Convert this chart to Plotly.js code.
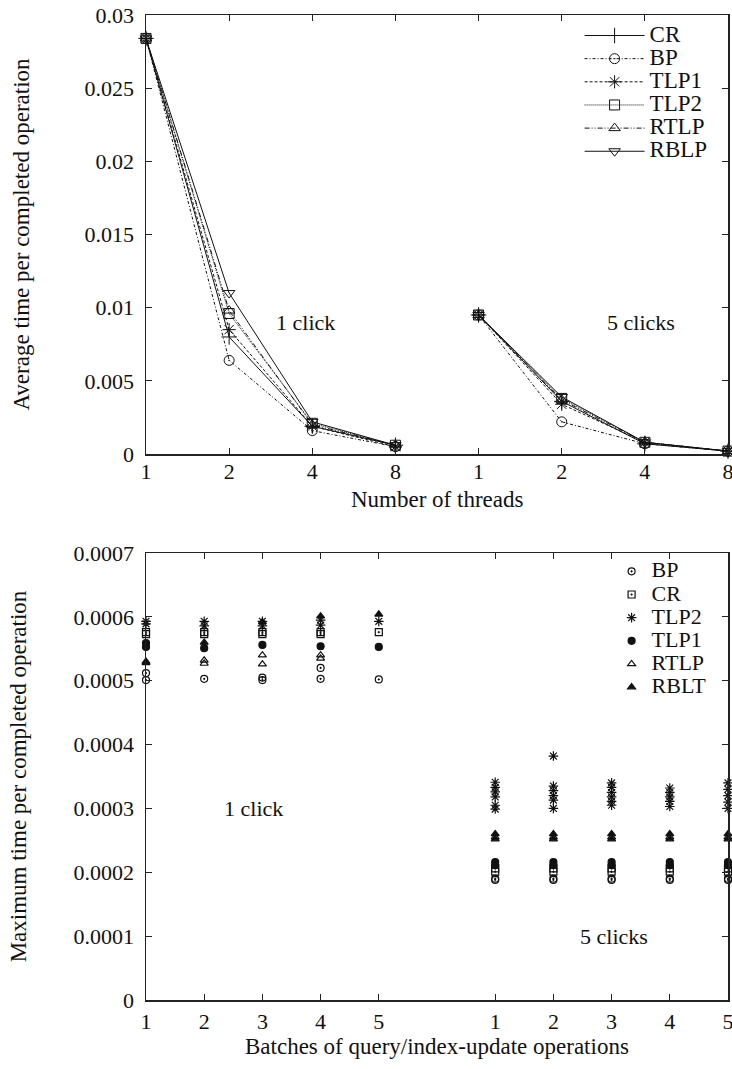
<!DOCTYPE html>
<html>
<head>
<meta charset="utf-8">
<script src="https://cdn.plot.ly/plotly-3.0.1.min.js"></script>
<style>html,body{margin:0;padding:0;background:#fff;}#chart{width:732px;height:1069px;}</style>
</head>
<body>
<div id="chart"></div>
<script>
// ---------- Top chart: average time vs number of threads ----------
const threads = ['1', '2', '4', '8'];
const groupsTop = ['1 click', '5 clicks'];
const avgSeriesNames = ['CR', 'BP', 'TLP1', 'TLP2', 'RTLP', 'RBLP'];
const CR_avg_1   = [0.0284, 0.0080, 0.0019, 0.0006];
const CR_avg_5   = [0.0095, 0.0036, 0.0007, 0.0002];
const BP_avg_1   = [0.0284, 0.0064, 0.0016, 0.0005];
const BP_avg_5   = [0.0095, 0.0022, 0.0007, 0.0002];
const TLP1_avg_1 = [0.0284, 0.0085, 0.0019, 0.0005];
const TLP1_avg_5 = [0.0095, 0.0034, 0.0008, 0.0002];
const TLP2_avg_1 = [0.0284, 0.0096, 0.0021, 0.0006];
const TLP2_avg_5 = [0.0095, 0.0038, 0.0008, 0.0002];
const RTLP_avg_1 = [0.0284, 0.0098, 0.0020, 0.0006];
const RTLP_avg_5 = [0.0095, 0.0037, 0.0008, 0.0002];
const RBLP_avg_1 = [0.0284, 0.0110, 0.0022, 0.0006];
const RBLP_avg_5 = [0.0095, 0.0039, 0.0008, 0.0002];
const yTicksTop = [0, 0.005, 0.01, 0.015, 0.02, 0.025, 0.03];
const yTickTextTop = ['0', '0.005', '0.01', '0.015', '0.02', '0.025', '0.03'];

// ---------- Bottom chart: maximum time vs batches (several runs per batch) ----------
const batches = ['1', '2', '3', '4', '5'];
const maxSeriesNames = ['BP', 'CR', 'TLP2', 'TLP1', 'RTLP', 'RBLT'];
// one list of observed values per batch
const BP_max_1   = [[0.000512, 0.000501], [0.000503], [0.000505, 0.000501], [0.00052, 0.000503], [0.000502]];
const BP_max_5   = [[0.00019, 0.000188], [0.00019, 0.000188], [0.00019, 0.000188], [0.00019, 0.000188], [0.00019, 0.000188]];
const CR_max_1   = [[0.000576, 0.000573], [0.000576, 0.000573], [0.000576, 0.000573], [0.000576, 0.000573], [0.000576]];
const CR_max_5   = [[0.000206, 0.000201], [0.000206, 0.000201], [0.000206, 0.000201], [0.000206, 0.000201], [0.000206, 0.000201]];
const TLP2_max_1 = [[0.000593, 0.000589], [0.000593, 0.000586], [0.000593, 0.000586], [0.000595, 0.000587], [0.000593]];
const TLP2_max_5 = [[0.000341, 0.000333, 0.000326, 0.000318, 0.000305, 0.000299],
                    [0.000382, 0.000335, 0.000328, 0.00032, 0.000313, 0.0003],
                    [0.00034, 0.000333, 0.000325, 0.000318, 0.000311, 0.000305],
                    [0.000332, 0.000325, 0.000318, 0.000311, 0.000303],
                    [0.00034, 0.00033, 0.00032, 0.00031, 0.0003]];
const TLP1_max_1 = [[0.000559, 0.000553], [0.000551], [0.000556], [0.000554], [0.000553]];
const TLP1_max_5 = [[0.000216, 0.000211], [0.000216, 0.000211], [0.000216, 0.000211], [0.000216, 0.000211], [0.000216, 0.000211]];
const RTLP_max_1 = [[0.000528], [0.000532, 0.000527], [0.00054, 0.000526], [0.00054, 0.000535], []];
const RTLP_max_5 = [[0.000255], [0.000255], [0.000255], [0.000255], [0.000255]];
const RBLT_max_1 = [[0.00053], [0.00056], [0.000592], [0.000601], [0.000604]];
const RBLT_max_5 = [[0.00026, 0.000252], [0.00026, 0.000252], [0.00026, 0.000252], [0.00026, 0.000252], [0.00026, 0.000252]];
const yTicksBot = [0, 0.0001, 0.0002, 0.0003, 0.0004, 0.0005, 0.0006, 0.0007];
const yTickTextBot = ['0', '0.0001', '0.0002', '0.0003', '0.0004', '0.0005', '0.0006', '0.0007'];

const FONT = 'Liberation Serif, Times New Roman, serif';
const INK = '#111';
const FS = 22;

// positions along the axis: group 1 at 0..n-1, group 2 after a gap
function topX() {
  const n = threads.length;
  const xs = threads.map((_, i) => i);
  return xs.concat([null], threads.map((_, i) => n + i));
}
function topY(a, b) { return a.concat([null], b); }
// legend label: larger glyphs than the legend line spacing uses (gnuplot-like tight rows)
function legLabel(name, px) { return '<span style="font-size:' + px + 'px">' + name + '</span>'; }

const avgData = {
  CR: [CR_avg_1, CR_avg_5], BP: [BP_avg_1, BP_avg_5], TLP1: [TLP1_avg_1, TLP1_avg_5],
  TLP2: [TLP2_avg_1, TLP2_avg_5], RTLP: [RTLP_avg_1, RTLP_avg_5], RBLP: [RBLP_avg_1, RBLP_avg_5]
};
const avgStyle = {
  CR:   {dash: 'solid', symbol: 'cross-thin-open', size: 11},
  BP:   {dash: '3px,2px,1px,2px', symbol: 'circle-open-dot', size: 10},
  TLP1: {dash: '3px,2px', symbol: 'asterisk-open', size: 11},
  TLP2: {dash: '1px,1px', symbol: 'square-open', size: 10},
  RTLP: {dash: '5px,2px,1px,2px,1px,2px', symbol: 'triangle-up-open', size: 10},
  RBLP: {dash: 'solid', symbol: 'triangle-down-open', size: 10}
};

const traces = [];
avgSeriesNames.forEach(name => {
  const st = avgStyle[name];
  traces.push({
    type: 'scatter', mode: 'lines+markers', name: legLabel(name, 23),
    x: topX(), y: topY(avgData[name][0], avgData[name][1]),
    xaxis: 'x', yaxis: 'y', legend: 'legend', connectgaps: false, cliponaxis: false,
    line: {color: INK, width: 1, dash: st.dash},
    marker: {symbol: st.symbol, size: st.size, color: INK, line: {color: INK, width: 1}}
  });
});

const maxData = {
  BP: [BP_max_1, BP_max_5], CR: [CR_max_1, CR_max_5], TLP2: [TLP2_max_1, TLP2_max_5],
  TLP1: [TLP1_max_1, TLP1_max_5], RTLP: [RTLP_max_1, RTLP_max_5], RBLT: [RBLT_max_1, RBLT_max_5]
};
const maxStyle = {
  BP:   {symbol: 'circle-open-dot', size: 7},
  CR:   {symbol: 'square-open-dot', size: 7},
  TLP2: {symbol: 'asterisk-open', size: 8},
  TLP1: {symbol: 'circle', size: 7},
  RTLP: {symbol: 'triangle-up-open', size: 7},
  RBLT: {symbol: 'triangle-up', size: 7}
};
maxSeriesNames.forEach(name => {
  const xs = [], ys = [];
  const n = batches.length;
  maxData[name].forEach((grp, g) => {
    grp.forEach((vals, i) => {
      vals.forEach(v => { xs.push(g * (n + 1) + i); ys.push(v); });
    });
  });
  const st = maxStyle[name];
  traces.push({
    type: 'scatter', mode: 'markers', name: legLabel(name, 22), x: xs, y: ys,
    xaxis: 'x2', yaxis: 'y2', legend: 'legend2', cliponaxis: false,
    marker: {symbol: st.symbol, size: st.size, color: INK, line: {color: INK, width: 1.2}}
  });
});

const nT = threads.length, nB = batches.length;
const axisCommon = {
  showline: true, linecolor: '#222', linewidth: 1.5, mirror: 'allticks',
  ticks: 'inside', ticklen: 6, tickcolor: '#222', tickwidth: 1,
  showgrid: false, zeroline: false, fixedrange: true, ticklabeloverflow: 'allow',
  tickfont: {family: FONT, size: FS, color: INK}
};
const titleFont = {family: FONT, size: 23, color: INK};
const annFont = {family: FONT, size: FS, color: INK};

const layout = {
  width: 732, height: 1069,
  margin: {l: 146, r: 4, t: 15, b: 69},
  paper_bgcolor: '#fff', plot_bgcolor: '#fff',
  font: {family: FONT, size: FS, color: INK},
  showlegend: true,
  xaxis: Object.assign({}, axisCommon, {
    domain: [0, 1], anchor: 'y', range: [0, 2 * nT - 1],
    tickvals: threads.map((_, i) => i).concat(threads.map((_, i) => nT + i)),
    ticktext: threads.concat(threads), ticklabelstandoff: -3
  }),
  yaxis: Object.assign({}, axisCommon, {
    domain: [0.5543, 1], anchor: 'x', range: [0, 0.03],
    tickvals: yTicksTop, ticktext: yTickTextTop, ticklabelstandoff: 6,
    title: {text: 'Average time per completed operation', font: titleFont, standoff: 48}
  }),
  xaxis2: Object.assign({}, axisCommon, {
    domain: [0, 1], anchor: 'y2', range: [0, 2 * nB],
    tickvals: batches.map((_, i) => i).concat(batches.map((_, i) => nB + 1 + i)),
    ticktext: batches.concat(batches), ticklabelstandoff: 1
  }),
  yaxis2: Object.assign({}, axisCommon, {
    domain: [0, 0.4538], anchor: 'x2', range: [0, 0.0007],
    tickvals: yTicksBot, ticktext: yTickTextBot, ticklabelstandoff: 6,
    title: {text: 'Maximum time per completed operation', font: titleFont, standoff: 40}
  }),
  legend: {
    x: 0.745, y: 0.996, xanchor: 'left', yanchor: 'top',
    bgcolor: 'rgba(0,0,0,0)', borderwidth: 0, itemwidth: 60,
    font: {family: FONT, size: 15.5, color: INK}, tracegroupgap: 0
  },
  legend2: {
    x: 0.80, y: 0.452, xanchor: 'left', yanchor: 'top',
    bgcolor: 'rgba(0,0,0,0)', borderwidth: 0, itemwidth: 30,
    font: {family: FONT, size: 15.5, color: INK}, tracegroupgap: 0
  },
  annotations: [
    {xref: 'paper', yref: 'paper', x: 0.5, y: 0.5086, yanchor: 'middle', text: 'Number of threads', showarrow: false, font: titleFont},
    {xref: 'paper', yref: 'paper', x: 0.5, y: -0.0477, yanchor: 'middle', text: 'Batches of query/index-update operations', showarrow: false, font: titleFont},
    {xref: 'x', yref: 'y', x: 1.92, y: 0.009, text: groupsTop[0], showarrow: false, font: annFont},
    {xref: 'x', yref: 'y', x: 5.95, y: 0.009, text: groupsTop[1], showarrow: false, font: annFont},
    {xref: 'x2', yref: 'y2', x: 1.84, y: 0.0003, text: groupsTop[0], showarrow: false, font: annFont},
    {xref: 'x2', yref: 'y2', x: 8.04, y: 0.0001, text: groupsTop[1], showarrow: false, font: annFont}
  ]
};

Plotly.newPlot('chart', traces, layout, {staticPlot: true, displayModeBar: false});
</script>
</body>
</html>
